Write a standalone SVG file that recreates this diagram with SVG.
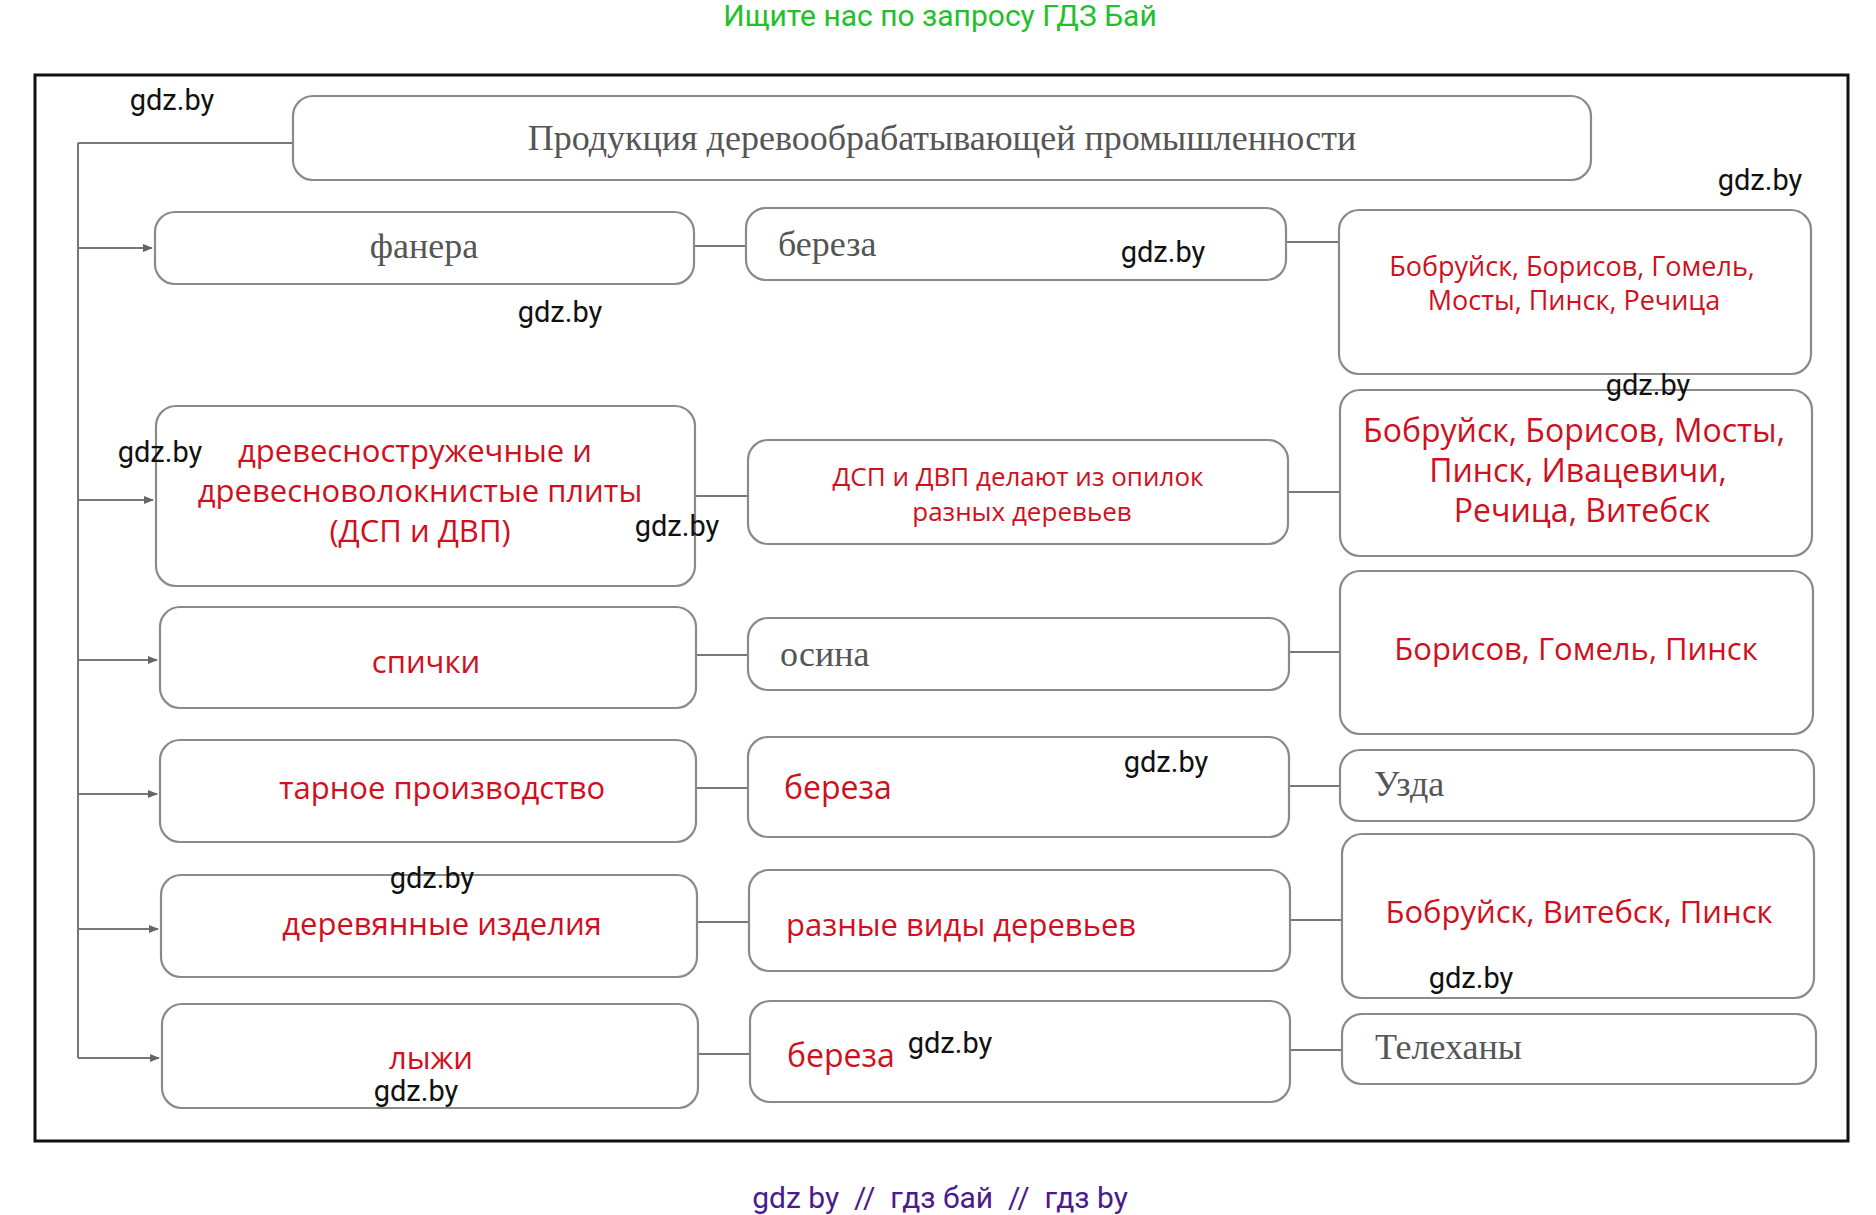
<svg xmlns="http://www.w3.org/2000/svg" width="1876" height="1215" viewBox="0 0 1876 1215">
<style>
.b{fill:#fff;stroke:#8a8a8a;stroke-width:2.2}
.r{font-family:"Open Sans","Liberation Sans",sans-serif;fill:#cf1020}
.g{font-family:"Liberation Serif",serif;fill:#555}
.w{font-family:Roboto,"Liberation Sans",sans-serif;font-size:29px;fill:#111;text-anchor:middle}
.c{stroke:#777;stroke-width:2;fill:none}
</style>
<defs><marker id="a" markerWidth="10" markerHeight="8" refX="9" refY="4" orient="auto" markerUnits="userSpaceOnUse"><path d="M0,0 L10,4 L0,8z" fill="#666"/></marker></defs>
<rect width="1876" height="1215" fill="#fff"/>
<text x="940" y="26" text-anchor="middle" font-family="Roboto,'Liberation Sans',sans-serif" font-size="30" fill="#22c02a">Ищите нас по запросу ГДЗ Бай</text>
<rect x="35" y="75" width="1813" height="1066" fill="none" stroke="#111" stroke-width="3"/>
<g id="connectors">
<path class="c" d="M78,143 H293 M78,143 V1058"/>
<line class="c" marker-end="url(#a)" x1="78" y1="248" x2="152" y2="248"/>
<line class="c" marker-end="url(#a)" x1="78" y1="500" x2="153" y2="500"/>
<line class="c" marker-end="url(#a)" x1="78" y1="660" x2="157" y2="660"/>
<line class="c" marker-end="url(#a)" x1="78" y1="794" x2="157" y2="794"/>
<line class="c" marker-end="url(#a)" x1="78" y1="929" x2="158" y2="929"/>
<line class="c" marker-end="url(#a)" x1="78" y1="1058" x2="159" y2="1058"/>
<path class="c" d="M694,246 H746 M1286,242 H1339 M695,496 H748 M1288,492 H1340 M696,655 H748 M1289,652 H1340 M696,788 H748 M1289,786 H1340 M697,922 H749 M1290,920 H1342 M698,1054 H750 M1290,1050 H1342"/>
</g>
<g id="title"><rect class="b" x="293" y="96" width="1298" height="84" rx="20"/><text class="g" x="942" y="150" text-anchor="middle" font-size="36">Продукция деревообрабатывающей промышленности</text></g>
<g id="r1l"><rect class="b" x="155" y="212" width="539" height="72" rx="20"/><text class="g" x="424" y="258" text-anchor="middle" font-size="36">фанера</text></g>
<g id="r1m"><rect class="b" x="746" y="208" width="540" height="72" rx="20"/><text class="g" x="778" y="256" font-size="36">береза</text></g>
<g id="r1r"><rect class="b" x="1339" y="210" width="472" height="164" rx="20"/><text class="r" x="1572" y="276" text-anchor="middle" font-size="27">Бобруйск, Борисов, Гомель,</text><text class="r" x="1574" y="310" text-anchor="middle" font-size="27">Мосты, Пинск, Речица</text></g>
<g id="r2l"><rect class="b" x="156" y="406" width="539" height="180" rx="20"/><text class="r" x="415" y="462" text-anchor="middle" font-size="31">древесностружечные и</text><text class="r" x="420" y="502" text-anchor="middle" font-size="31">древесноволокнистые плиты</text><text class="r" x="420" y="542" text-anchor="middle" font-size="31">(ДСП и ДВП)</text></g>
<g id="r2m"><rect class="b" x="748" y="440" width="540" height="104" rx="20"/><text class="r" x="1018" y="486" text-anchor="middle" font-size="26">ДСП и ДВП делают из опилок</text><text class="r" x="1022" y="521" text-anchor="middle" font-size="26">разных деревьев</text></g>
<g id="r2r"><rect class="b" x="1340" y="390" width="472" height="166" rx="20"/><text class="r" x="1574" y="442" text-anchor="middle" font-size="32">Бобруйск, Борисов, Мосты,</text><text class="r" x="1578" y="482" text-anchor="middle" font-size="32">Пинск, Ивацевичи,</text><text class="r" x="1582" y="522" text-anchor="middle" font-size="32">Речица, Витебск</text></g>
<g id="r3l"><rect class="b" x="160" y="607" width="536" height="101" rx="20"/><text class="r" x="426" y="673" text-anchor="middle" font-size="31">спички</text></g>
<g id="r3m"><rect class="b" x="748" y="618" width="541" height="72" rx="20"/><text class="g" x="780" y="666" font-size="36">осина</text></g>
<g id="r3r"><rect class="b" x="1340" y="571" width="473" height="163" rx="20"/><text class="r" x="1576" y="660" text-anchor="middle" font-size="31">Борисов, Гомель, Пинск</text></g>
<g id="r4l"><rect class="b" x="160" y="740" width="536" height="102" rx="20"/><text class="r" x="442" y="799" text-anchor="middle" font-size="31">тарное производство</text></g>
<g id="r4m"><rect class="b" x="748" y="737" width="541" height="100" rx="20"/><text class="r" x="784" y="799" font-size="32">береза</text></g>
<g id="r4r"><rect class="b" x="1340" y="750" width="474" height="71" rx="20"/><text class="g" x="1374" y="796" font-size="36">Узда</text></g>
<g id="r5l"><rect class="b" x="161" y="875" width="536" height="102" rx="20"/><text class="r" x="442" y="935" text-anchor="middle" font-size="31">деревянные изделия</text></g>
<g id="r5m"><rect class="b" x="749" y="870" width="541" height="101" rx="20"/><text class="r" x="786" y="936" font-size="31">разные виды деревьев</text></g>
<g id="r5r"><rect class="b" x="1342" y="834" width="472" height="164" rx="20"/><text class="r" x="1579" y="923" text-anchor="middle" font-size="31">Бобруйск, Витебск, Пинск</text></g>
<g id="r6l"><rect class="b" x="162" y="1004" width="536" height="104" rx="20"/><text class="r" x="431" y="1069" text-anchor="middle" font-size="31">лыжи</text></g>
<g id="r6m"><rect class="b" x="750" y="1001" width="540" height="101" rx="20"/><text class="r" x="787" y="1067" font-size="32">береза</text></g>
<g id="r6r"><rect class="b" x="1342" y="1014" width="474" height="70" rx="20"/><text class="g" x="1375" y="1059" font-size="36">Телеханы</text></g>
<g id="wm">
<text class="w" x="172" y="110">gdz.by</text><text class="w" x="1760" y="190">gdz.by</text><text class="w" x="1163" y="262">gdz.by</text><text class="w" x="560" y="322">gdz.by</text><text class="w" x="1648" y="395">gdz.by</text><text class="w" x="160" y="462">gdz.by</text><text class="w" x="677" y="536">gdz.by</text><text class="w" x="1166" y="772">gdz.by</text><text class="w" x="432" y="888">gdz.by</text><text class="w" x="1471" y="988">gdz.by</text><text class="w" x="950" y="1053">gdz.by</text><text class="w" x="416" y="1101">gdz.by</text>
</g>
<text x="940" y="1208" text-anchor="middle" font-family="Roboto,'Liberation Sans',sans-serif" font-size="30" fill="#4b1a8c" xml:space="preserve">gdz by  //  гдз бай  //  гдз by</text>
</svg>
